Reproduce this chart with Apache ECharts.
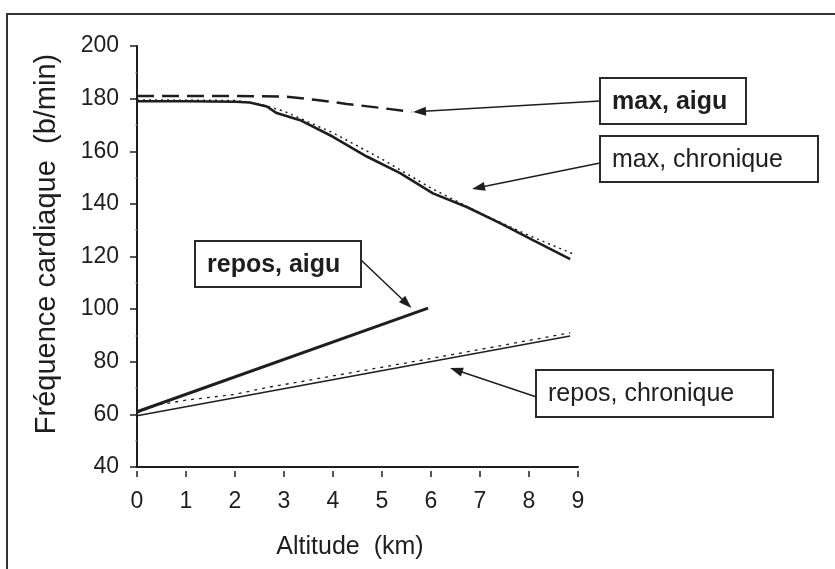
<!DOCTYPE html>
<html><head><meta charset="utf-8">
<script src="https://cdn.jsdelivr.net/npm/echarts@6/dist/echarts.min.js"></script>
<style>html,body{margin:0;padding:0;background:#fff}#c{width:835px;height:569px}</style>
</head><body><div id="c"></div>
<script>
// ---- data ----
const xTicks = [0, 1, 2, 3, 4, 5, 6, 7, 8, 9];
const yTicks = [40, 60, 80, 100, 120, 140, 160, 180, 200];
const xTitle = "Altitude  (km)";
const yTitle = "Fréquence cardiaque  (b/min)";

const maxAiguX = [0, 1, 2, 3, 3.67, 4.28, 4.96, 5.6];
const maxAiguY = [181, 181, 181, 180.8, 179.5, 178, 176.5, 175];

const maxChronX = [0, 1, 2, 2.3, 2.65, 2.85, 3.33, 4.0, 4.69, 5.37, 6.04, 6.73, 7.41, 8.08, 8.84];
const maxChronY = [179, 179, 178.8, 178.5, 177, 174.5, 171.8, 165.5, 158, 151.7, 144, 138.8, 132.7, 126.2, 119];

const maxChronFitX = [0, 2, 2.5, 3, 4, 5, 6, 7, 8, 8.9];
const maxChronFitY = [179.5, 179.3, 178, 175.2, 167, 157, 146, 136.5, 128, 121];

const reposAiguX = [0, 5.94];
const reposAiguY = [61, 100.4];

const reposChronX = [0, 8.84];
const reposChronY = [59.5, 89.8];

const reposChronFitX = [0, 0.4, 1, 2, 2.65, 3.33, 6.05, 8.84];
const reposChronFitY = [60.5, 63.5, 65.4, 67.6, 70.2, 72.4, 81.4, 91];

const labels = ["max, aigu", "max, chronique", "repos, aigu", "repos, chronique"];

// ---- helpers ----
const zip = (xs, ys) => xs.map((x, i) => [x, ys[i]]);
const FONT = '"Liberation Sans", Arial, Helvetica, sans-serif';
const INK = '#1e1e1e';

function lineSeries(name, xs, ys, width, type) {
  return {
    name, type: 'line', data: zip(xs, ys), showSymbol: false, symbol: 'none',
    xAxisIndex: 0, yAxisIndex: 0,
    lineStyle: { color: INK, width: width, type: type, cap: 'butt' },
    silent: true
  };
}

function arrow(x1, y1, x2, y2) {
  const dx = x2 - x1, dy = y2 - y1, L = Math.hypot(dx, dy);
  const ux = dx / L, uy = dy / L, hl = 13, hw = 4.5;
  const bx = x2 - ux * hl, by = y2 - uy * hl;
  return [
    { type: 'line', shape: { x1, y1, x2: bx + ux * 2, y2: by + uy * 2 }, style: { stroke: INK, lineWidth: 1.5 } },
    { type: 'polygon', shape: { points: [[x2, y2], [bx - uy * hw, by + ux * hw], [bx + uy * hw, by - ux * hw]] }, style: { fill: INK } }
  ];
}

function box(x, y, w, h, text, bold) {
  return [
    { type: 'rect', shape: { x, y, width: w, height: h }, style: { fill: '#fff', stroke: '#2a2a2a', lineWidth: 2 } },
    { type: 'text', x: x + 12, y: y + h / 2 + 1, style: { text, font: (bold ? 'bold ' : '') + '25px ' + FONT, fill: INK, textAlign: 'left', textVerticalAlign: 'middle' } }
  ];
}

const chart = echarts.init(document.getElementById('c'), null, { renderer: 'canvas' });

const xCommon = { type: 'value', min: xTicks[0], max: xTicks[xTicks.length - 1], interval: xTicks[1] - xTicks[0], splitLine: { show: false }, position: 'bottom' };
const yCommon = { type: 'value', min: yTicks[0], max: yTicks[yTicks.length - 1], interval: yTicks[1] - yTicks[0], splitLine: { show: false }, position: 'left' };

const option = {
  animation: false,
  backgroundColor: '#fff',
  grid: { left: 137, top: 46, width: 441, height: 421, containLabel: false },
  xAxis: [
    Object.assign({}, xCommon, {
      axisLine: { show: true, lineStyle: { color: INK, width: 2 } },
      axisTick: { show: false }, axisLabel: { show: false }
    }),
    Object.assign({}, xCommon, {
      offset: 4,
      axisLine: { show: false },
      axisTick: { show: true, length: 6, lineStyle: { color: INK, width: 1.5 } },
      axisLabel: { show: true, margin: 19, fontSize: 23, fontFamily: FONT, color: INK }
    })
  ],
  yAxis: [
    Object.assign({}, yCommon, {
      axisLine: { show: true, lineStyle: { color: INK, width: 2 } },
      axisTick: { show: false }, axisLabel: { show: false }
    }),
    Object.assign({}, yCommon, {
      offset: 5,
      axisLine: { show: false },
      axisTick: { show: true, length: 7, lineStyle: { color: INK, width: 1.5 } },
      minorTick: { show: true, splitNumber: 2, length: 1.5, lineStyle: { color: '#777', width: 1.5 } },
      axisLabel: { show: true, margin: 13, fontSize: 23, fontFamily: FONT, color: INK }
    })
  ],
  series: [
    lineSeries(labels[0], maxAiguX, maxAiguY, 2.5, [17, 8]),
    lineSeries(labels[1] + ' fit', maxChronFitX, maxChronFitY, 1.5, [2, 4]),
    lineSeries(labels[1], maxChronX, maxChronY, 2.6, 'solid'),
    lineSeries(labels[2], reposAiguX, reposAiguY, 3, 'solid'),
    lineSeries(labels[3] + ' fit', reposChronFitX, reposChronFitY, 1.3, [3, 5]),
    lineSeries(labels[3], reposChronX, reposChronY, 1.6, 'solid')
  ],
  graphic: [
    { type: 'rect', shape: { x: 7, y: 14, width: 840, height: 570 }, style: { fill: 'none', stroke: '#333', lineWidth: 2 }, z: 100 },
    { type: 'text', x: 47, y: 244, rotation: Math.PI / 2, style: { text: yTitle, font: '29px ' + FONT, fill: INK, textAlign: 'center', textVerticalAlign: 'middle' } },
    { type: 'text', x: 350, y: 547, style: { text: xTitle, font: '25px ' + FONT, fill: INK, textAlign: 'center', textVerticalAlign: 'middle' } },
    ...arrow(600, 101, 413, 112),
    ...arrow(600, 163, 472, 189),
    ...arrow(361, 260, 411.5, 308),
    ...arrow(536.5, 397, 450, 368),
    ...box(600, 78, 146, 46, labels[0], true),
    ...box(600, 136, 218, 46, labels[1], false),
    ...box(195, 241, 166, 46, labels[2], true),
    ...box(536, 370, 237, 47, labels[3], false)
  ]
};
chart.setOption(option);
</script>
</body></html>
